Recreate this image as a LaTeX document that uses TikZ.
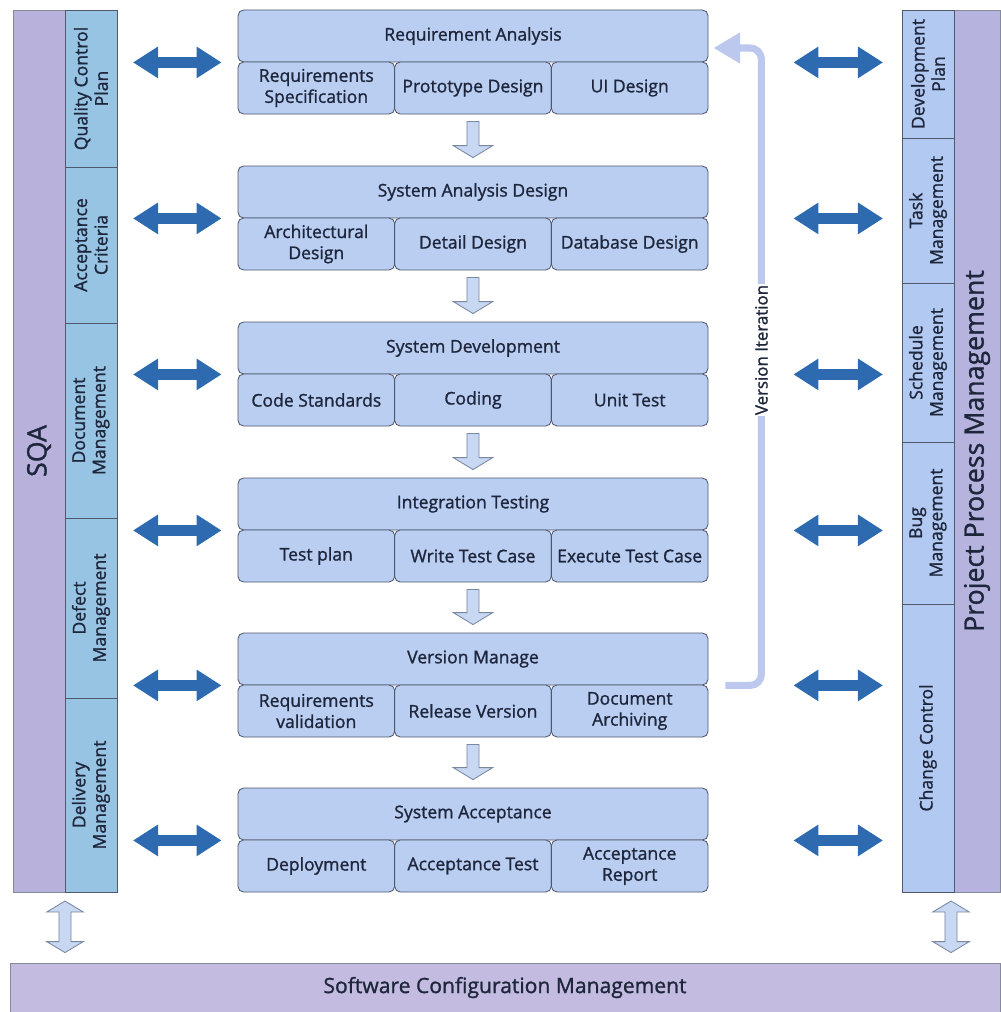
\documentclass[tikz,border=0pt]{standalone}
\usepackage{fontspec}
\setmainfont{Open Sans}
\newfontfamily\semifont{Open Sans}[FakeBold=1.2]
\usetikzlibrary{arrows.meta,calc}
\definecolor{BoxClr}{RGB}{186,206,242}
\definecolor{BoxLine}{RGB}{80,88,110}
\definecolor{SqaClr}{RGB}{183,177,220}
\definecolor{SqaSecClr}{RGB}{152,196,228}
\definecolor{PpmSecClr}{RGB}{178,201,241}
\definecolor{ScmClr}{RGB}{196,188,224}
\definecolor{LinkClr}{RGB}{46,106,176}
\definecolor{IterClr}{RGB}{188,200,238}
\definecolor{FlowFill}{RGB}{200,216,242}
\definecolor{FlowLine}{RGB}{120,136,160}
\definecolor{TextClr}{RGB}{30,38,60}
\newcommand{\PX}{0.025cm}

% hollow arrow pointing down
\newcommand{\FlowArrow}[2]{%
  \path[flowarrow] let \p1=(#1), \p2=(#2) in
    (\x1-4.3pt,\y1) -- (\x1+4.3pt,\y1) -- (\x1+4.3pt,\y2+8.5pt) -- (\x1+14pt,\y2+8.5pt)
    -- (\x1,\y2) -- (\x1-14pt,\y2+8.5pt) -- (\x1-4.3pt,\y2+8.5pt) -- cycle;}
% hollow arrow with two heads
\newcommand{\LinkArrow}[2]{%
  \path[flowarrow] let \p1=(#1), \p2=(#2) in
    (\x1,\y1) -- (\x1+13pt,\y1-7.8pt) -- (\x1+4.3pt,\y1-7.8pt) -- (\x1+4.3pt,\y2+7.8pt)
    -- (\x1+13pt,\y2+7.8pt) -- (\x1,\y2) -- (\x1-13pt,\y2+7.8pt) -- (\x1-4.3pt,\y2+7.8pt)
    -- (\x1-4.3pt,\y1-7.8pt) -- (\x1-13pt,\y1-7.8pt) -- cycle;}

\tikzset{
  stagehead/.style={draw=BoxLine, line width=0.6pt, fill=BoxClr, rounded corners=4pt,
    minimum width=470*\PX, minimum height=52*\PX, inner sep=0pt, align=center,
    text=TextClr, font=\semifont\fontsize{12.5}{15}\selectfont},
  stagesub/.style={stagehead, minimum width=156.7*\PX},
  sqasec/.style={draw=BoxLine, line width=0.6pt, fill=SqaSecClr, rotate=90,
    minimum height=52*\PX, inner sep=0pt, align=center, text=TextClr,
    font=\semifont\fontsize{12.5}{14.5}\selectfont},
  ppmsec/.style={sqasec, fill=PpmSecClr},
  sideband/.style={draw=BoxLine!70, line width=0.6pt, fill=SqaClr, rotate=90,
    minimum width=882*\PX, inner sep=0pt, text=TextClr,
    font=\semifont\fontsize{19}{22}\selectfont},
  linkarrow/.style={LinkClr, line width=7.8pt,
    {Triangle[length=17.8pt,width=21.3pt]}-{Triangle[length=17.8pt,width=21.3pt]}},
  flowarrow/.style={draw=FlowLine, fill=FlowFill, line width=0.6pt},
  iterline/.style={IterClr, line width=5pt, rounded corners=8pt,
    -{Triangle[length=19pt,width=21pt]}},
}

\begin{document}
\begin{tikzpicture}[x=\PX, y=-\PX]
\fill[white] (0,0) rectangle (1000,1012);
\useasboundingbox (0,0) rectangle (1000,1012);

% left column
\node[sideband, minimum height=52*\PX] (sqa) at (39,451) {SQA};
\node[sqasec, minimum width=157*\PX] (qcp) at (91,88.5) {Quality Control\\Plan};
\node[sqasec, minimum width=156*\PX] (ac) at (91,245) {Acceptance\\Criteria};
\node[sqasec, minimum width=195*\PX] (dm) at (91,420.5) {Document\\Management};
\node[sqasec, minimum width=180*\PX] (dfm) at (91,608) {Defect\\Management};
\node[sqasec, minimum width=194*\PX] (dlm) at (91,795) {Delivery\\Management};
\coordinate (sqaR) at (117,451);
\coordinate (sqaB) at (65,892);

% right column
\node[sideband, minimum height=46*\PX, fill=SqaClr!90!PpmSecClr] (ppm) at (977,451) {Project Process Management};
\node[ppmsec, minimum width=128*\PX] (dp) at (928,74) {Development\\Plan};
\node[ppmsec, minimum width=145*\PX] (tm) at (928,210.5) {Task\\Management};
\node[ppmsec, minimum width=159*\PX] (sm) at (928,362.5) {Schedule\\Management};
\node[ppmsec, minimum width=162*\PX] (bm) at (928,523) {Bug\\Management};
\node[ppmsec, minimum width=288*\PX] (cc) at (928,748) {Change Control};
\coordinate (ppmL) at (902,451);
\coordinate (ppmB) at (951,892);

% stages
\node[stagehead] (ra) at (473,36) {Requirement Analysis};
\node[stagesub] (ra-1) at (316.3,88) {Requirements\\Specification};
\node[stagesub] (ra-2) at (473,88) {Prototype Design};
\node[stagesub] (ra-3) at (629.7,88) {UI Design};

\node[stagehead] (sad) at (473,192) {System Analysis Design};
\node[stagesub] (sad-1) at (316.3,244) {Architectural\\Design};
\node[stagesub] (sad-2) at (473,244) {Detail Design};
\node[stagesub] (sad-3) at (629.7,244) {Database Design};

\node[stagehead] (sd) at (473,348) {System Development};
\node[stagesub] (sd-1) at (316.3,400) {Code Standards};
\node[stagesub] (sd-2) at (473,400) {Coding};
\node[stagesub] (sd-3) at (629.7,400) {Unit Test};

\node[stagehead] (it) at (473,504) {Integration Testing};
\node[stagesub] (it-1) at (316.3,556) {Test plan};
\node[stagesub] (it-2) at (473,556) {Write Test Case};
\node[stagesub] (it-3) at (629.7,556) {Execute Test Case};

\node[stagehead] (vm) at (473,659) {Version Manage};
\node[stagesub] (vm-1) at (316.3,711) {Requirements\\validation};
\node[stagesub] (vm-2) at (473,711) {Release Version};
\node[stagesub] (vm-3) at (629.7,711) {Document\\Archiving};

\node[stagehead] (sa) at (473,814) {System Acceptance};
\node[stagesub] (sa-1) at (316.3,866) {Deployment};
\node[stagesub] (sa-2) at (473,866) {Acceptance Test};
\node[stagesub] (sa-3) at (629.7,866) {Acceptance\\Report};

% flow between stages
\FlowArrow{$(ra-2.south)+(0,7)$}{$(sad.north)+(0,-8)$}
\FlowArrow{$(sad-2.south)+(0,7)$}{$(sd.north)+(0,-8)$}
\FlowArrow{$(sd-2.south)+(0,7)$}{$(it.north)+(0,-8)$}
\FlowArrow{$(it-2.south)+(0,7)$}{$(vm.north)+(0,-8)$}
\FlowArrow{$(vm-2.south)+(0,7)$}{$(sa.north)+(0,-8)$}

% version iteration
\draw[iterline] ($(vm.south east)+(17,0)$) -- ($(vm.south east)+(53,0)$)
  -- ($(ra.east)+(53,12)$) -- ($(ra.east)+(5,12)$);
\node[fill=white, rotate=90, inner sep=1pt, text=TextClr,
  font=\semifont\fontsize{12}{14}\selectfont] (vi) at ($(ra.east)+(53,314)$) {Version Iteration};

% links to SQA
\draw[linkarrow] ($(sqaR |- ra.south)+(16,0)$) -- ($(ra.south west)+(-16,0)$);
\draw[linkarrow] ($(sqaR |- sad.south)+(16,0)$) -- ($(sad.south west)+(-16,0)$);
\draw[linkarrow] ($(sqaR |- sd.south)+(16,0)$) -- ($(sd.south west)+(-16,0)$);
\draw[linkarrow] ($(sqaR |- it.south)+(16,0)$) -- ($(it.south west)+(-16,0)$);
\draw[linkarrow] ($(sqaR |- vm.south)+(16,0)$) -- ($(vm.south west)+(-16,0)$);
\draw[linkarrow] ($(sqaR |- sa.south)+(16,0)$) -- ($(sa.south west)+(-16,0)$);

% links to project process management
\draw[linkarrow] ($(ra.south east)+(85,0)$) -- ($(ppmL |- ra.south)+(-19,0)$);
\draw[linkarrow] ($(sad.south east)+(85,0)$) -- ($(ppmL |- sad.south)+(-19,0)$);
\draw[linkarrow] ($(sd.south east)+(85,0)$) -- ($(ppmL |- sd.south)+(-19,0)$);
\draw[linkarrow] ($(it.south east)+(85,0)$) -- ($(ppmL |- it.south)+(-19,0)$);
\draw[linkarrow] ($(vm.south east)+(85,0)$) -- ($(ppmL |- vm.south)+(-19,0)$);
\draw[linkarrow] ($(sa.south east)+(85,0)$) -- ($(ppmL |- sa.south)+(-19,0)$);

% configuration management
\node[draw=BoxLine!70, line width=0.6pt, fill=ScmClr, minimum width=990*\PX,
  minimum height=49*\PX, inner sep=0pt, text=TextClr,
  font=\semifont\fontsize{15}{18}\selectfont] (scm) at (505,987.5) {Software Configuration Management};
\LinkArrow{$(sqaB)+(0,9)$}{$(sqaB |- scm.north)+(0,-10)$}
\LinkArrow{$(ppmB)+(0,9)$}{$(ppmB |- scm.north)+(0,-10)$}

\end{tikzpicture}
\end{document}
